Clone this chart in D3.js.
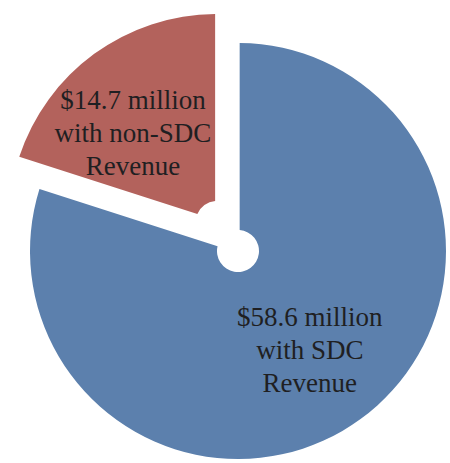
<!DOCTYPE html>
<html>
<head>
<meta charset="utf-8">
<script src="https://cdn.jsdelivr.net/npm/d3@7/dist/d3.min.js"></script>
<style>
  html, body { margin: 0; padding: 0; background: #fff; }
  svg { display: block; }
</style>
</head>
<body>
<svg id="chart" width="450" height="463"></svg>
<script>
// Revenue split (millions of dollars)
const categories = ["with SDC Revenue", "with non-SDC Revenue"];
const values = [58.6, 14.7];
const labelLines = [
  ["$58.6 million", "with SDC", "Revenue"],
  ["$14.7 million", "with non-SDC", "Revenue"]
];
const colors = ["#5c80ad", "#b3625c"];

const width = 450, height = 463;
const cx = 238, cy = 251;
const outerR = 208, innerR = 21;
const explode = [0, 36];          // distance each slice is pulled out
const labelR = 127;
const labelNudge = [[-3, -3], [-9, 15]];

const svg = d3.select("#chart");
const g = svg.append("g").attr("transform", `translate(${cx},${cy})`);

const pie = d3.pie().sort(null).value(d => d.value).startAngle(0).endAngle(2 * Math.PI);
const data = pie(categories.map((c, i) => ({ name: c, value: values[i], i })));

const arc = d3.arc()
  .innerRadius(innerR)
  .outerRadius(outerR)
  .padAngle(0.016)
  .padRadius(outerR);

const labelArc = d3.arc().innerRadius(labelR).outerRadius(labelR);

const slices = g.selectAll("g.slice")
  .data(data)
  .join("g")
  .attr("class", "slice")
  .attr("transform", d => {
    const mid = (d.startAngle + d.endAngle) / 2;
    const e = explode[d.data.i];
    return `translate(${e * Math.sin(mid)},${-e * Math.cos(mid)})`;
  });

slices.append("path")
  .attr("d", arc)
  .attr("fill", d => colors[d.data.i]);

const fontSize = 27, lineH = 33;
slices.append("text")
  .attr("transform", d => {
    const [x, y] = labelArc.centroid(d);
    const n = labelNudge[d.data.i];
    return `translate(${x + n[0]},${y + n[1]})`;
  })
  .attr("text-anchor", "middle")
  .attr("font-family", "'Liberation Serif', 'Times New Roman', serif")
  .attr("font-size", fontSize)
  .attr("fill", "#1f1f22")
  .selectAll("tspan")
  .data(d => labelLines[d.data.i])
  .join("tspan")
  .attr("x", 0)
  .attr("y", (t, k) => (k - 1) * lineH + fontSize * 0.3)
  .text(t => t);
</script>
</body>
</html>
